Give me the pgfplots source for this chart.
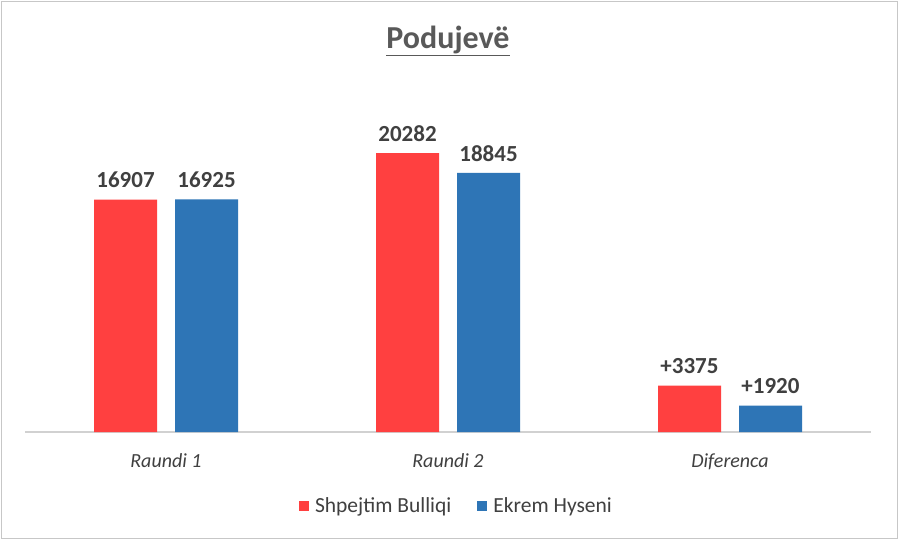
\documentclass[border=0pt]{standalone}
\usepackage{pgfplots}
\pgfplotsset{compat=1.18}
\usepackage{fontspec}
\setmainfont{Carlito}
\definecolor{cred}{HTML}{FF4040}
\definecolor{cblue}{HTML}{2E75B6}
\definecolor{ctext}{HTML}{404040}
\definecolor{ctitle}{HTML}{595959}
\begin{document}
\begin{tikzpicture}
\useasboundingbox (0pt,0pt) rectangle (900pt,-541pt);
\fill[white] (0pt,0pt) rectangle (900pt,-541pt);
\draw[black!22,line width=1.5pt] (1.5pt,-1.5pt) rectangle (897.5pt,-538.5pt);
\node[text=ctitle,font=\fontsize{32}{36}\selectfont\bfseries,anchor=base] at (448pt,-48pt) {\underline{Podujevë}};
\begin{axis}[
  at={(25pt,-432pt)}, anchor=south west,
  scale only axis, width=846pt, height=330pt,
  xmin=-0.5, xmax=2.5, ymin=0, ymax=24000,
  ybar=18pt, bar width=63pt,
  axis y line=none, axis x line*=bottom,
  x axis line style={black!18, line width=1.2pt},
  xtick={0,1,2}, xticklabels={Raundi 1,Raundi 2,Diferenca},
  major tick length=0pt,
  xticklabel style={font=\fontsize{20}{24}\selectfont\itshape, text=ctext, yshift=-18pt},
  nodes near coords,
  point meta=explicit symbolic,
  every node near coord/.append style={font=\fontsize{23}{26}\selectfont\bfseries, text=ctext, yshift=8pt},
  legend columns=2,
  legend style={at={(0.51,-0.224)}, anchor=center, draw=none, fill=none,
    font=\fontsize{21.5}{24}\selectfont, text=ctext,
    /tikz/every even column/.append style={column sep=24pt}},
  legend image code/.code={\fill[#1] (0pt,-5pt) rectangle (10pt,5pt); \path (14pt,0pt);},
]
\addplot[fill=cred, draw=none] coordinates {(0,16907) [16907] (1,20282) [20282] (2,3375) [+3375]};
\addplot[fill=cblue, draw=none] coordinates {(0,16925) [16925] (1,18845) [18845] (2,1920) [+1920]};
\legend{Shpejtim Bulliqi, Ekrem Hyseni}
\end{axis}
\end{tikzpicture}
\end{document}
